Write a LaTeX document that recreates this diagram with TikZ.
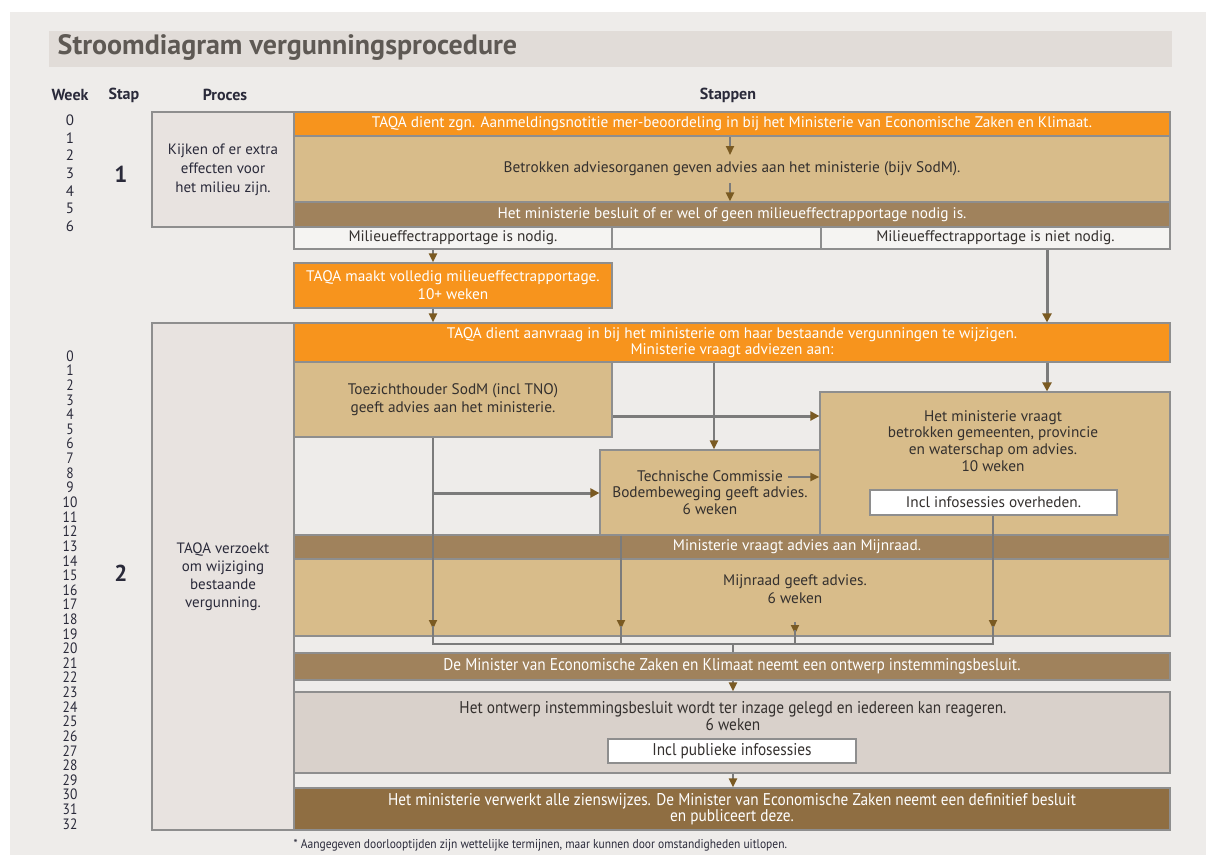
\documentclass[tikz,border=0pt]{standalone}
\usepackage{fontspec}
\setmainfont{PT Sans}
\newfontfamily\narrowfont[FakeStretch=0.9]{PT Sans}
\usetikzlibrary{arrows.meta}

\definecolor{panel}{HTML}{EEECEA}
\definecolor{titlebar}{HTML}{E1DCD8}
\definecolor{titlegrey}{HTML}{5E5954}
\definecolor{headtext}{HTML}{2A2A3A}
\definecolor{darktext}{HTML}{34302E}
\definecolor{taqaorange}{HTML}{F7941D}
\definecolor{tan}{HTML}{D8BC8A}
\definecolor{barbrown}{HTML}{A0825C}
\definecolor{darkbrown}{HTML}{8F6E42}
\definecolor{procgrey}{HTML}{E8E3E0}
\definecolor{inzagegrey}{HTML}{D9D1CB}
\definecolor{cellwhite}{HTML}{F5F4F2}
\definecolor{framegrey}{HTML}{8E8E8E}
\definecolor{linegrey}{HTML}{7B7B7B}
\definecolor{tipbrown}{HTML}{7A5A22}

\tikzset{every picture/.style={line width=0.75pt}}
\tikzset{
  box/.style={draw=framegrey, line width=1.2pt, inner sep=0pt, align=center,
    font=\fontsize{15.3}{17.5}\selectfont},
  orangebox/.style={box, fill=taqaorange, text=white},
  tanbox/.style={box, fill=tan, text=darktext},
  brownbar/.style={box, fill=barbrown, text=white},
  darkbar/.style={box, fill=darkbrown, text=white},
  cell/.style={box, fill=cellwhite, text=darktext},
  procbox/.style={box, fill=procgrey, text=headtext, font=\fontsize{15}{19}\selectfont},
  narrowtext/.style={font=\fontsize{17}{17}\narrowfont},
  header/.style={font=\fontsize{16}{18}\bfseries\selectfont, text=headtext},
  weeknum/.style={font=\fontsize{15}{15}\selectfont, text=headtext, inner sep=0pt},
  stapnum/.style={font=\fontsize{23}{25}\bfseries\selectfont, text=headtext},
  link/.style={draw=linegrey, line width=2pt},
  thicklink/.style={draw=linegrey, line width=3pt},
  flow/.style={link, -{Triangle[length=9pt,width=8pt,color=tipbrown]}},
  thickflow/.style={thicklink, -{Triangle[length=9pt,width=9pt,color=tipbrown]}},
}

\begin{document}
\begin{tikzpicture}[x=1pt,y=-1pt]
\useasboundingbox (0,0) rectangle (1206,855);
\fill[white] (0,0) rectangle (1206,855);
\fill[panel] (10,12) rectangle (1206,855);
\fill[titlebar] (49,31) rectangle (1172,67);
\node[anchor=west, text=titlegrey, font=\fontsize{28}{30}\bfseries\selectfont] (titel) at (54,47) {Stroomdiagram vergunningsprocedure};
%
\node[header] (kopweek) at (70,95) {Week};
\node[header] (kopstap) at (124,95) {Stap};
\node[header] (kopproces) at (225,95) {Proces};
\node[header] (kopstappen) at (728,95) {Stappen};
%
\foreach \w in {0,...,6}
  \node[weeknum] (wa\w) at (70,{120+\w*17.7}) {\w};
\foreach \w in {0,...,32}
  \node[weeknum, font=\fontsize{15}{15}\narrowfont] (wb\w) at (70,{356+\w*14.62}) {\w};
\node[stapnum] (stap1) at (121,174) {1};
\node[stapnum] (stap2) at (121,573) {2};
%
% stap 1
\node[procbox, minimum width=142, minimum height=115] (proc1) at (223,169.5) {Kijken of er extra\\effecten voor\\het milieu zijn.};
\node[orangebox, minimum width=876, minimum height=24] (aanmelding) at (732,124) {TAQA dient zgn. Aanmeldingsnotitie mer-beoordeling in bij het Ministerie van Economische Zaken en Klimaat.};
\node[tanbox, minimum width=876, minimum height=66] (advies) at (732,169) {Betrokken adviesorganen geven advies aan het ministerie (bijv SodM).};
\node[brownbar, minimum width=876, minimum height=25] (besluit) at (732,214.5) {Het ministerie besluit of er wel of geen milieueffectrapportage nodig is.};
\node[cell, minimum width=318, minimum height=22] (nodig) at (453,238) {Milieueffectrapportage is nodig.};
\node[cell, minimum width=209, minimum height=22] (leeg) at (716.5,238) {};
\node[cell, minimum width=349, minimum height=22] (nietnodig) at (995.5,238) {Milieueffectrapportage is niet nodig.};
\node[orangebox, minimum width=318, minimum height=45, font=\fontsize{15.3}{18}\selectfont] (mer) at (453,285.5) {TAQA maakt volledig milieueffectrapportage.\\10+ weken};
%
% stap 2
\node[procbox, minimum width=142, minimum height=507, font=\fontsize{15}{18}\selectfont] (proc2) at (223,576.5) {TAQA verzoekt\\om wijziging\\bestaande\\vergunning.};
\node[orangebox, minimum width=876, minimum height=39, font=\fontsize{15.3}{16}\selectfont] (aanvraag) at (732,342.5) {TAQA dient aanvraag in bij het ministerie om haar bestaande vergunningen te wijzigen.\\Ministerie vraagt adviezen aan:};
\node[tanbox, minimum width=318, minimum height=75] (sodm) at (453,399.5) {Toezichthouder SodM (incl TNO)\\geeft advies aan het ministerie.};
\node[tanbox, minimum width=350, minimum height=143] (overheid) at (995,463.5) {};
\node[text=darktext, align=center, font=\fontsize{15.3}{16.7}\selectfont] (overheidtekst) at (993,441) {Het ministerie vraagt\\betrokken gemeenten, provincie\\en waterschap om advies.\\10 weken};
\node[cell, fill=white, minimum width=247, minimum height=25] (infooverheid) at (993.5,502.5) {Incl infosessies overheden.};
\node[tanbox, minimum width=220, minimum height=85, font=\fontsize{15.3}{16.7}\selectfont] (tcb) at (710,492.5) {Technische Commissie\\Bodembeweging geeft advies.\\6 weken};
\node[brownbar, minimum width=876, minimum height=24] (mijnraadvraag) at (732,547) {};
\node[text=white, font=\fontsize{15.3}{17}\selectfont] (mijnraadvraagtekst) at (797,547) {Ministerie vraagt advies aan Mijnraad.};
\node[tanbox, minimum width=876, minimum height=77] (mijnraad) at (732,597.5) {};
\node[text=darktext, align=center, font=\fontsize{15.3}{18}\selectfont] (mijnraadtekst) at (795,589) {Mijnraad geeft advies.\\6 weken};
\node[brownbar, narrowtext, minimum width=876, minimum height=27] (ontwerp) at (732,666.5) {De Minister van Economische Zaken en Klimaat neemt een ontwerp instemmingsbesluit.};
\node[box, fill=inzagegrey, minimum width=876, minimum height=81] (inzage) at (732,732.5) {};
\node[text=darktext, align=center, font=\fontsize{17}{17}\narrowfont] (inzagetekst) at (733,716.5) {Het ontwerp instemmingsbesluit wordt ter inzage gelegd en iedereen kan reageren.\\6 weken};
\node[cell, fill=white, narrowtext, minimum width=248, minimum height=24] (infopubliek) at (732,751) {Incl publieke infosessies};
\node[darkbar, minimum width=876, minimum height=42, font=\fontsize{17}{15}\narrowfont] (definitief) at (732,809) {Het ministerie verwerkt alle zienswijzes. De Minister van Economische Zaken neemt een definitief besluit\\en publiceert deze.};
\node[anchor=west, text=headtext, font=\fontsize{12.8}{14}\narrowfont] (voetnoot) at (290,845) {* Aangegeven doorlooptijden zijn wettelijke termijnen, maar kunnen door omstandigheden uitlopen.};
%
% verbindingen stap 1
\draw[flow] (aanmelding.south -| 730,0) -- (730,155);
\draw[flow] (730,183) -- (besluit.north -| 730,0);
\draw[flow] (nodig.south -| 433,0) -- (mer.north -| 433,0);
\draw[flow] (mer.south -| 433,0) -- (aanvraag.north -| 433,0);
\draw[thickflow] (nietnodig.south -| 1047,0) -- (aanvraag.north -| 1047,0);
%
% verbindingen stap 2
\draw[flow] (aanvraag.south -| 714,0) -- (tcb.north -| 714,0);
\draw[thickflow] (aanvraag.south -| 1047,0) -- (overheid.north -| 1047,0);
\draw[thickflow] (sodm.east |- 0,416) -- (overheid.west |- 0,416);
\draw[thickflow] (433,493) -- (tcb.west |- 0,493);
\draw[flow] (788,477) -- (overheid.west |- 0,477);
\draw[link] (sodm.south -| 433,0) -- (433,493);
\draw[flow] (433,493) -- (433,629);
\draw[flow] (tcb.south -| 621,0) -- (621,629);
\draw[flow] (795,622) -- (795,634);
\draw[flow] (infooverheid.south -| 993,0) -- (993,629);
\draw[link] (433,626) -- (433,644) -- (993,644) -- (993,626);
\draw[link] (621,626) -- (621,644);
\draw[link] (795,630) -- (795,644);
\draw[link] (733,644) -- (ontwerp.north -| 733,0);
\draw[flow] (ontwerp.south -| 733,0) -- (inzage.north -| 733,0);
\draw[flow] (inzage.south -| 733,0) -- (definitief.north -| 733,0);
\end{tikzpicture}
\end{document}
